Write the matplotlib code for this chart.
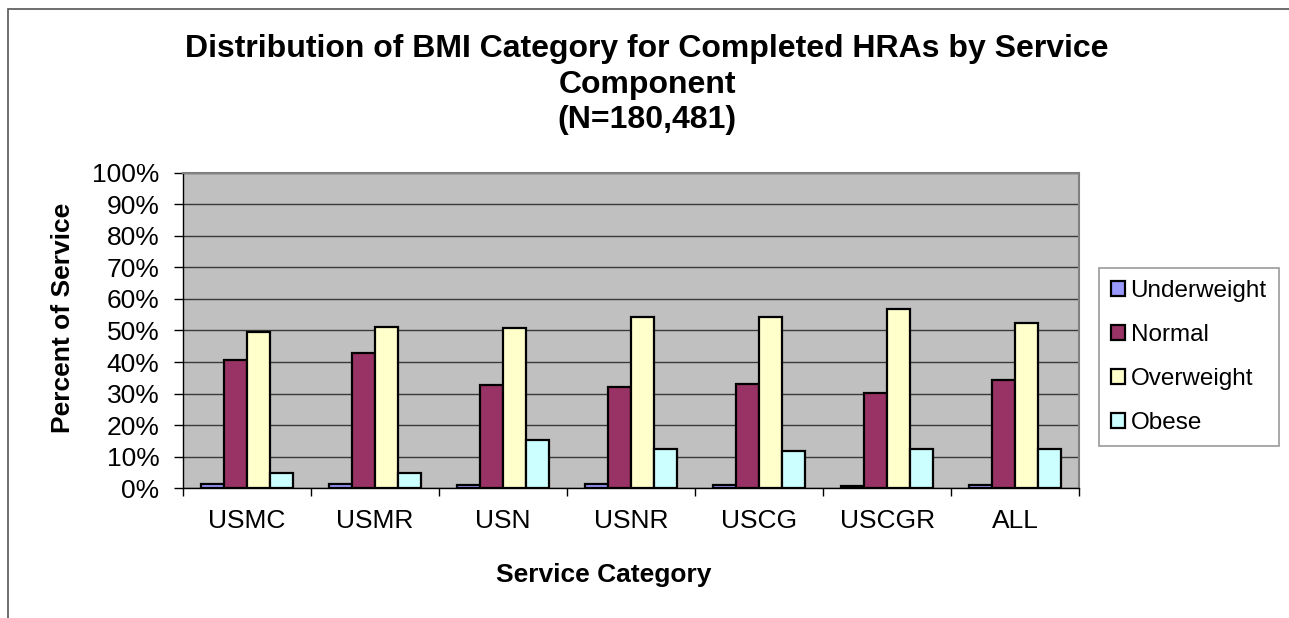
import matplotlib.pyplot as plt
import numpy as np
from matplotlib.patches import Rectangle

plt.rcParams['font.family'] = ['Liberation Sans', 'DejaVu Sans']

categories = ['USMC', 'USMR', 'USN', 'USNR', 'USCG', 'USCGR', 'ALL']
series = ['Underweight', 'Normal', 'Overweight', 'Obese']
underweight = [1.5, 1.3, 1.2, 1.4, 0.9, 0.8, 1.2]
normal = [40.7, 43.0, 32.8, 32.2, 33.2, 30.3, 34.4]
overweight = [49.4, 51.2, 50.7, 54.2, 54.2, 56.8, 52.4]
obese = [4.9, 4.9, 15.3, 12.5, 11.9, 12.3, 12.5]
colors = ['#9999FF', '#993366', '#FFFFCC', '#CCFFFF']
title_lines = ['Distribution of BMI Category for Completed HRAs by Service',
               'Component', '(N=180,481)']

W, H = 1289, 618
fig = plt.figure(figsize=(W/100, H/100), dpi=100)
ax = fig.add_axes([182.7/W, 1-488.3/H, (1079.3-182.7)/W, (488.3-172.7)/H])

# outer chart frame (runs off the right and bottom edges)
fig.patches.append(Rectangle((8/W, -0.1), 1.2, 1-9/H+0.1, transform=fig.transFigure,
                             fill=False, edgecolor='#555555', linewidth=1.2))

x = np.arange(len(categories))
w = 0.18
for i, (name, vals) in enumerate(zip(series, [underweight, normal, overweight, obese])):
    ax.bar(x + (i - 1.5) * w, vals, w, color=colors[i], edgecolor='black',
           linewidth=1.6, label=name, zorder=3)

ax.set_facecolor('#C0C0C0')
ax.set_xlim(-0.5, len(categories) - 0.5)
ax.set_ylim(0, 100)
ax.set_yticks(np.arange(0, 101, 10))
ax.set_yticklabels([f'{v}%' for v in range(0, 101, 10)], fontsize=19)
ax.set_xticks(x)
ax.set_xticklabels(categories, fontsize=19)
ax.set_xticks(np.arange(-0.5, len(categories)), minor=True)
ax.tick_params(axis='x', which='major', length=0, pad=15.2)
ax.tick_params(axis='x', which='minor', length=5.5, width=1, direction='out')
ax.tick_params(axis='y', length=6.3, width=1, direction='out', pad=10.5)
ax.grid(axis='y', color='#3a3a3a', linewidth=1.0, zorder=1)
ax.set_axisbelow(True)
for s in ['top', 'right']:
    ax.spines[s].set_color('#808080')
    ax.spines[s].set_linewidth(1.5)
for s in ['left', 'bottom']:
    ax.spines[s].set_color('black')
    ax.spines[s].set_linewidth(1.0)

ax.set_ylabel('Percent of Service', fontsize=19, fontweight='bold', labelpad=12)
ax.yaxis.label.set_y(0.541)
ax.set_xlabel('Service Category', fontsize=19, fontweight='bold', labelpad=21.3)
ax.xaxis.label.set_x(0.47)

for line, base in zip(title_lines, [57, 93, 128]):
    fig.text(647/W, 1-base/H, line, ha='center', va='baseline', fontsize=23, fontweight='bold')

leg = ax.legend(loc='center left', bbox_to_anchor=(1099/W, 1-357.3/H), bbox_transform=fig.transFigure,
                fontsize=17.5, frameon=True, fancybox=False, edgecolor='#808080',
                handlelength=0.58, handleheight=0.58, handletextpad=0.22, labelspacing=0.9,
                borderpad=0.5, borderaxespad=0)
leg.get_frame().set_linewidth(1.2)

fig.savefig('out.png', dpi=100)
